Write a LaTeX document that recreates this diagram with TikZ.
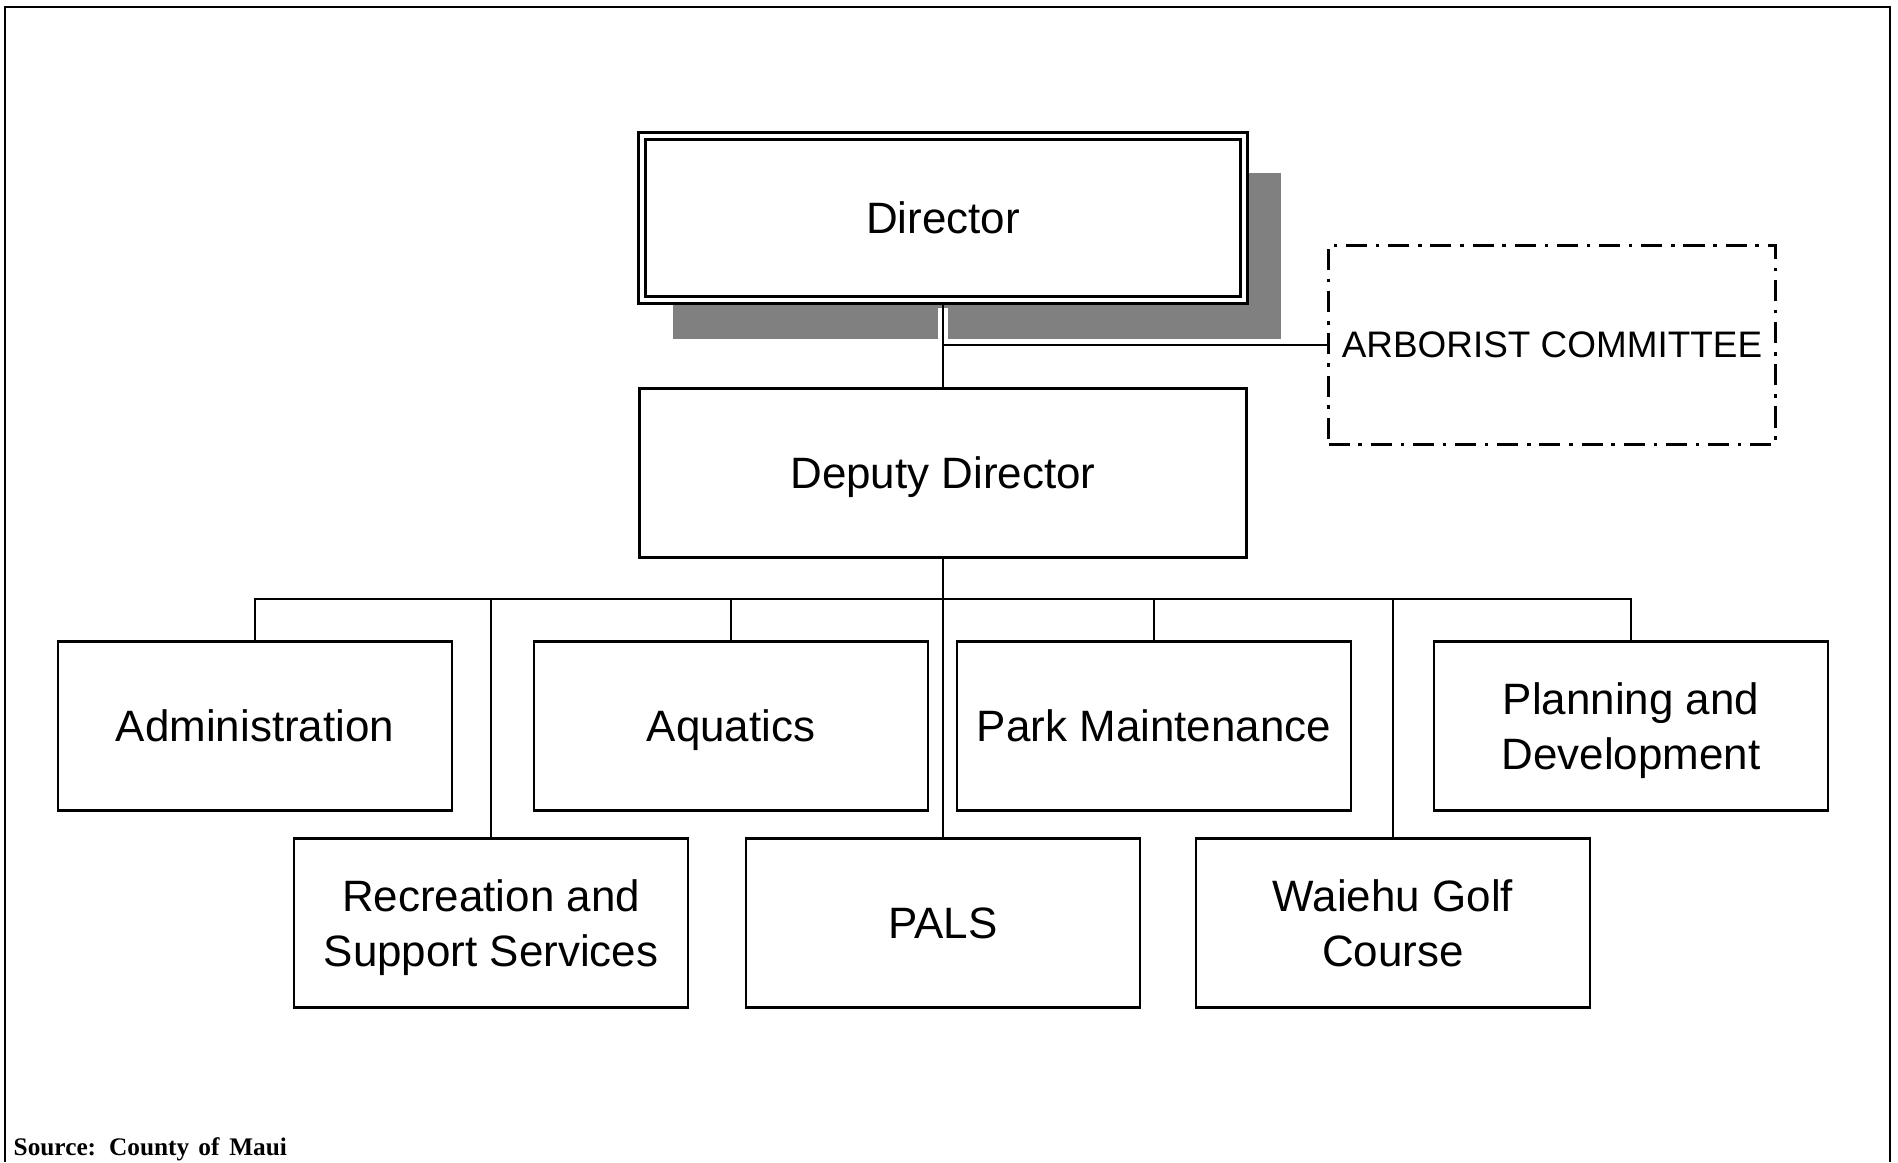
\documentclass[tikz,border=0pt]{standalone}
\usepackage{fontspec}
\setmainfont{Liberation Sans}
\newfontfamily\srcfont{Liberation Serif}
\usetikzlibrary{shadows}

\begin{document}
\begin{tikzpicture} [scale = 1, unit/.style = {draw, line width = 0.8pt, minimum width = 3.94cm, minimum height = 1.69cm, inner sep = 0pt, text depth = 0pt, align = center, font = \fontsize{12.5}{15.8}\selectfont}, link/.style = {line width = 0.8pt}]
\useasboundingbox (0, 0) rectangle (18.98, 11.62);
\draw[line width = 0.7pt] (0.05, 0) -- (0.05, 11.55) -- (18.90, 11.55) -- (18.90, 0);
\node[unit, minimum width = 6.02cm, minimum height = 1.645cm, double, double distance = 1.2pt, fill = white, drop shadow = {shadow xshift = 0.34cm, shadow yshift = -0.38cm, shadow scale = 1.01, fill = black!50, opacity = 1}] (dir) at (9.43, 9.44) {Director};
\node[unit, minimum width = 6.07cm] (dep) at (9.43, 6.89) {Deputy Director};
\node[unit, minimum width = 4.47cm, minimum height = 1.99cm, dash pattern = on 6pt off 2.5pt on 1pt off 2.5pt, font = \fontsize{10.5}{12.6}\selectfont] (arb) at (15.52, 8.17) {ARBORIST COMMITTEE};
\node[unit] (adm) at (2.55, 4.36) {Administration};
\node[unit] (aqu) at (7.31, 4.36) {Aquatics};
\node[unit] (park) at (11.54, 4.36) {Park Maintenance};
\node[unit] (plan) at (16.31, 4.36) {Planning and\\Development};
\node[unit] (rec) at (4.91, 2.39) {Recreation and\\Support Services};
\node[unit] (pals) at (9.43, 2.39) {PALS};
\node[unit] (golf) at (13.93, 2.39) {Waiehu Golf\\Course};
\coordinate (bus) at (9.43, 5.63);
\draw[white, line width = 2.6pt] ([yshift = -0.06cm]dir.south) -- (dir.south |- arb.west);
\draw[link] (dir.south) -- (dep.north);
\draw[link] (dir.south |- arb.west) -- (arb.west);
\draw[link] (dep.south) -- (pals.north);
\draw[link] (adm.north) |- (bus) -| (plan.north);
\foreach \n in {aqu, park, rec, golf}
  \draw[link] (\n.north) -- (\n.north |- bus);
\node[anchor = base west, inner sep = 0pt, font = \srcfont\bfseries\fontsize{7.2}{8}\selectfont] (src) at (0.13, 0.07) {Source:\hspace{3.7pt}County\hspace{2.6pt}of\hspace{2.8pt}Maui};
\end{tikzpicture}
\end{document}
